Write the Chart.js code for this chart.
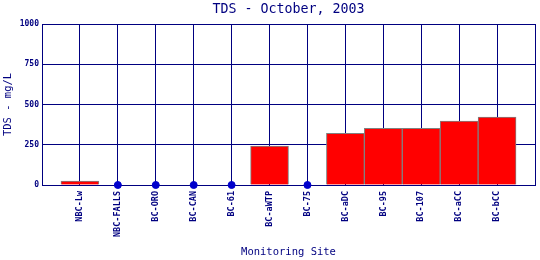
<!DOCTYPE html>
<html>
<head>
<meta charset="utf-8">
<script src="https://cdn.jsdelivr.net/npm/chart.js@4.4.1/dist/chart.umd.min.js"></script>
<style>
  html, body { margin: 0; padding: 0; background: #fff; }
  #wrap { position: relative; width: 540px; height: 260px; }
</style>
</head>
<body>
<div id="wrap"><canvas id="chart"></canvas></div>
<script>
// Monitoring sites, left to right
const sites = ['NBC-Lw', 'NBC-FALLS', 'BC-ORO', 'BC-CAN', 'BC-61', 'BC-aWTP',
  'BC-75', 'BC-aDC', 'BC-95', 'BC-107', 'BC-aCC', 'BC-bCC'];
// TDS (mg/L); 0 = drawn as a dot on the baseline
const tdsValues = [25, 0, 0, 0, 0, 242, 0, 321, 352, 352, 397, 422];
const yTicks = [0, 250, 500, 750, 1000];

const NAVY = '#000080';
const MONO = '"DejaVu Sans Mono", "Liberation Mono", monospace';

// one empty slot at each end so the sites sit between the grid borders
const labels = ['', ...sites, ''];
const barData = [null, ...tdsValues.map((v) => (v > 0 ? v : null)), null];
const dotData = [null, ...tdsValues.map((v) => (v === 0 ? 0 : null)), null];

// the scales must not reserve extra room for half-labels at the ends
function noSidePadding(scale) {
  scale.paddingLeft = 0;
  scale.paddingRight = 0;
}

new Chart(document.getElementById('chart'), {
  type: 'bar',
  data: {
    labels,
    datasets: [
      {
        type: 'line',
        data: dotData,
        showLine: false,
        clip: false,
        pointRadius: 3.5,
        pointBackgroundColor: '#0000cc',
        pointBorderColor: '#0000cc',
        order: 0,
      },
      {
        data: barData,
        backgroundColor: '#ff0000',
        borderColor: '#808080',
        borderWidth: 1,
        barPercentage: 1,
        categoryPercentage: 1,
        order: 1,
      },
    ],
  },
  options: {
    responsive: true,
    maintainAspectRatio: false,
    animation: false,
    layout: { padding: { top: 0, right: 4, left: 0, bottom: 0 } },
    plugins: {
      legend: { display: false },
      tooltip: { enabled: false },
    },
    scales: {
      // top axis only carries the chart title, centred over the plot
      top: {
        type: 'category',
        position: 'top',
        labels,
        offset: false,
        grid: { display: false },
        border: { display: false },
        ticks: { display: false },
        title: {
          display: true,
          text: 'TDS - October, 2003',
          color: NAVY,
          font: { family: MONO, size: 13.3, lineHeight: 1 },
          padding: { top: 3, bottom: 0 },
        },
        afterFit(scale) { scale.height = 24; noSidePadding(scale); },
      },
      x: {
        type: 'category',
        offset: false,
        grid: { color: NAVY, lineWidth: 1, drawTicks: false, offset: false },
        border: { color: NAVY },
        ticks: {
          autoSkip: false,
          minRotation: 90,
          maxRotation: 90,
          padding: 6,
          color: NAVY,
          font: { family: MONO, size: 8.5, weight: 'bold' },
        },
        title: {
          display: true,
          text: 'Monitoring Site',
          color: NAVY,
          font: { family: MONO, size: 10.5 },
          padding: { top: 0, bottom: 1 },
        },
        afterFit(scale) { scale.height = 75; noSidePadding(scale); },
      },
      y: {
        min: 0,
        max: 1000,
        afterBuildTicks(scale) { scale.ticks = yTicks.map((v) => ({ value: v })); },
        grid: { color: NAVY, lineWidth: 1, drawTicks: false },
        border: { color: NAVY },
        ticks: {
          padding: 3,
          color: NAVY,
          font: { family: MONO, size: 8, weight: 'bold' },
          callback: (v) => String(v),
        },
        title: {
          display: true,
          text: 'TDS - mg/L',
          color: NAVY,
          font: { family: MONO, size: 10.5 },
          padding: { top: 2, bottom: 0 },
        },
        afterFit(scale) { scale.width = 42; scale.paddingTop = 0; scale.paddingBottom = 0; },
      },
    },
  },
});
</script>
</body>
</html>
